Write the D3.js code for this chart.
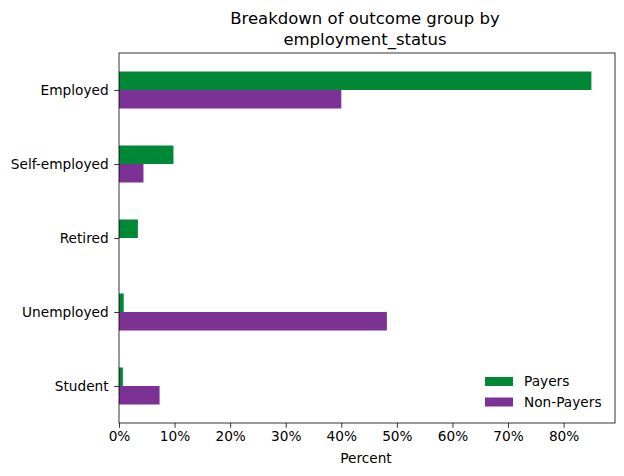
<!DOCTYPE html>
<html><head><meta charset="utf-8">
<script src="https://cdn.jsdelivr.net/npm/d3@7"></script>
<style>body{margin:0;background:#fff;} text{font-family:"DejaVu Sans",sans-serif;fill:#000;}</style>
</head><body>
<svg id="c" width="624" height="476"></svg>
<script>
const categories = ["Employed", "Self-employed", "Retired", "Unemployed", "Student"];
const seriesNames = ["Payers", "Non-Payers"];
const payers = [85, 9.8, 3.4, 0.85, 0.7];
const nonPayers = [40, 4.4, 0, 48.2, 7.3];
const xTicks = [0, 10, 20, 30, 40, 50, 60, 70, 80];
const colors = ["#008837", "#7b3294"];

const svg = d3.select("#c");
const L = 119, R = 615, T = 53, B = 423;
const x = d3.scaleLinear().domain([0, 85 * 1.05]).range([L, R]);
const y = d3.scaleLinear().domain([-0.5, categories.length - 0.5]).range([T, B]);
const bh = 0.25;
const series = [payers, nonPayers];

series.forEach((vals, si) => {
  svg.append("g").selectAll("rect").data(vals).join("rect")
    .attr("x", x(0))
    .attr("y", (d, i) => y(i + (si === 0 ? -bh : 0)))
    .attr("width", d => x(d) - x(0))
    .attr("height", y(bh) - y(0))
    .attr("fill", colors[si]);
});

// axes
const xAxis = d3.axisBottom(x).tickValues(xTicks).tickFormat(d => d + "%").tickSize(4.8).tickPadding(3.5);
const gx = svg.append("g").attr("transform", `translate(0,${B})`).call(xAxis);
gx.select(".domain").remove();
gx.selectAll("line").attr("stroke", "#000").attr("stroke-width", 0.8);
gx.selectAll("text").attr("font-size", "13.7px").attr("fill", "#000").attr("font-family", "DejaVu Sans");

const yAxis = d3.axisLeft(y).tickValues(d3.range(categories.length)).tickFormat(i => categories[i]).tickSize(4.8).tickPadding(5.6);
const gy = svg.append("g").attr("transform", `translate(${L},0)`).call(yAxis);
gy.select(".domain").remove();
gy.selectAll("line").attr("stroke", "#000").attr("stroke-width", 0.8);
gy.selectAll("text").attr("font-size", "13.7px").attr("fill", "#000").attr("font-family", "DejaVu Sans");

svg.append("rect").attr("x", L).attr("y", T).attr("width", R - L).attr("height", B - T)
  .attr("fill", "none").attr("stroke", "#000").attr("stroke-width", 0.8);

// title
svg.append("text").attr("x", 365).attr("y", 24).attr("text-anchor", "middle")
  .attr("font-size", "16.5px").text("Breakdown of outcome group by");
svg.append("text").attr("x", 365).attr("y", 45).attr("text-anchor", "middle")
  .attr("font-size", "16.5px").text("employment_status");

svg.append("text").attr("x", 366).attr("y", 463).attr("text-anchor", "middle")
  .attr("font-size", "13.7px").text("Percent");

// legend
const lg = svg.append("g");
seriesNames.forEach((n, i) => {
  const yy = 377 + i * 20.5;
  lg.append("rect").attr("x", 485).attr("y", yy).attr("width", 28).attr("height", 9).attr("fill", colors[i]);
  lg.append("text").attr("x", 524).attr("y", yy + 9).attr("font-size", "13.7px").text(n);
});
</script>
</body></html>
